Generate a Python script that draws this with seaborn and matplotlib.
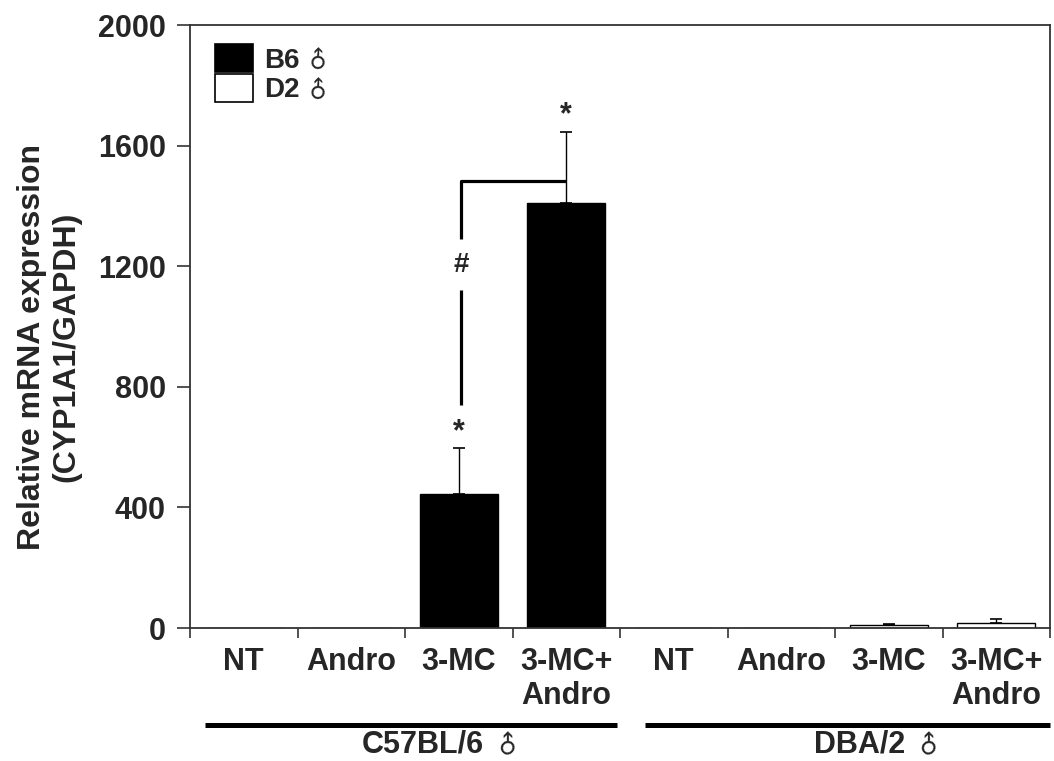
import numpy as np
import pandas as pd
import matplotlib
matplotlib.use("Agg")
import matplotlib.pyplot as plt
import seaborn as sns

# Treatment groups per strain
treatments = ["NT", "Andro", "3-MC", "3-MC+\nAndro"]
strains = ["B6", "D2"]
strain_titles = ["C57BL/6", "DBA/2"]
MALE = "\u2642"

# Relative CYP1A1/GAPDH mRNA expression (mean and upper SD)
b6_mean = [0, 0, 444, 1410]
b6_sd = [0, 0, 153, 235]
d2_mean = [0, 0, 10, 17]
d2_sd = [0, 0, 2, 13]

sns.set_theme(style="white")
plt.rcParams["font.family"] = ["Liberation Sans", "DejaVu Sans"]
plt.rcParams["font.weight"] = "bold"

keys = [f"{s}|{t}" for s in strains for t in treatments]
df = pd.DataFrame({
    "key": keys,
    "strain": [s for s in strains for _ in treatments],
    "value": b6_mean + d2_mean,
})
sd = np.array(b6_sd + d2_sd)

W, H = 1054, 761
fig = plt.figure(figsize=(W / 100, H / 100), dpi=100)
ax = fig.add_axes([190 / W, 1 - 628 / H, 860 / W, 603 / H])

sns.barplot(data=df, x="key", y="value", hue="strain", order=keys,
            hue_order=strains, palette={"B6": "black", "D2": "white"},
            dodge=False, width=0.73, edgecolor="black", linewidth=1.0,
            errorbar=None, ax=ax)

pos = np.arange(len(keys))
vals = df["value"].to_numpy()
has_err = sd > 0
ax.errorbar(pos[has_err], vals[has_err],
            yerr=[np.zeros(has_err.sum()), sd[has_err]],
            fmt="none", ecolor="black", elinewidth=1.0, capsize=4.5, capthick=1.2)

ax.set_xlim(-0.5, len(keys) - 0.5)
ax.set_ylim(0, 2000)
ax.set_yticks(np.arange(0, 2001, 400))
ax.tick_params(axis="y", labelsize=22, length=9.5, width=1.2, direction="out",
               left=True, color="#333333", pad=8)
for lab in ax.get_yticklabels():
    lab.set_fontweight("bold")

# Category labels centered, tick marks at the boundaries
ax.set_xticks(pos)
ax.set_xticklabels(treatments * 2, fontsize=22, fontweight="bold",
                   va="top", linespacing=1.15)
ax.tick_params(axis="x", which="major", length=0, pad=14)
ax.set_xticks(np.arange(-0.5, len(keys), 1), minor=True)
ax.tick_params(axis="x", which="minor", length=7, width=1.2,
               direction="out", bottom=True, color="#333333")
ax.set_xlabel("")

ax.set_ylabel("Relative mRNA expression\n(CYP1A1/GAPDH)", fontsize=23,
              fontweight="bold", linespacing=1.2)
ax.yaxis.set_label_coords(-0.126, 0.466)

for sp in ax.spines.values():
    sp.set_visible(True)
    sp.set_color("#333333")
    sp.set_linewidth(1.3)

# Strain group bars under the category labels
trans = ax.get_xaxis_transform()
titles = []
for i, title in enumerate(strain_titles):
    x0 = i * 4 - 0.36 if i == 0 else i * 4 - 0.27
    x1 = i * 4 + 3.47 if i == 0 else i * 4 + 3.5
    ax.plot([x0, x1], [-0.161, -0.161], color="black", lw=3.6,
            transform=trans, clip_on=False, solid_capstyle="butt")
    titles.append(ax.text(i * 4 + 1.1 + (0.2 if i else 0), -0.206, title,
                          transform=trans, ha="left", va="baseline",
                          fontsize=22, fontweight="bold"))

# Significance marks
ax.text(2, 600, "*", ha="center", va="bottom", fontsize=22, fontweight="bold")
ax.text(3, 1650, "*", ha="center", va="bottom", fontsize=22, fontweight="bold")
ax.plot([3, 2.02, 2.02], [1483, 1483, 1290], color="black", lw=2.3,
        solid_capstyle="butt")
ax.plot([2.02, 2.02], [1120, 740], color="black", lw=2.3, solid_capstyle="butt")
ax.text(2.02, 1205, "#", ha="center", va="center", fontsize=20, fontweight="bold")

leg = ax.legend(loc="upper left", bbox_to_anchor=(25 / 860, 1 - 19 / 603),
                frameon=False, fontsize=20, handlelength=1.37, handleheight=1.19,
                labelspacing=0.0, handletextpad=0.4, borderaxespad=0,
                borderpad=0)
for t in leg.get_texts():
    t.set_fontweight("bold")
for h in leg.legend_handles:
    h.set_edgecolor("black")
    h.set_linewidth(1.2)


def add_male(text_obj, gap, size):
    """Place an upright male sign right after a text item."""
    fig.canvas.draw()
    bb = text_obj.get_window_extent()
    cx = bb.x1 + gap
    cy = bb.y0 + bb.height * 0.52
    fig.text(cx / W, cy / H, MALE, family="DejaVu Sans", fontsize=size,
             fontweight="bold", rotation=45, rotation_mode="anchor",
             ha="center", va="center")


for t in leg.get_texts():
    add_male(t, 19, 17)
for t in titles:
    add_male(t, 25, 18)

fig.savefig("out.png", dpi=100)
